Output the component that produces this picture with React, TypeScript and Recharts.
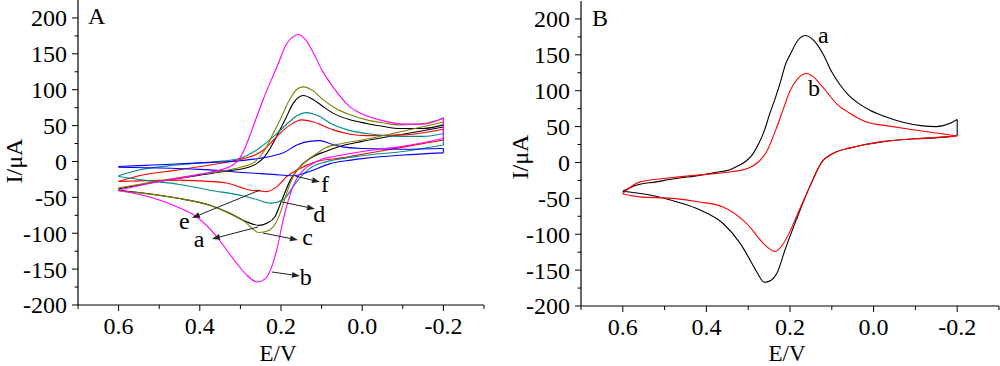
import React from 'react';
import { LineChart, Line, XAxis, YAxis, ReferenceLine, ReferenceDot } from 'recharts';

const FONT = "'Liberation Serif', 'Times New Roman', serif";

// axis ticks
const xTicks = [0.7, 0.6, 0.5, 0.4, 0.3, 0.2, 0.1, 0, -0.1, -0.2, -0.3];
const xTickLabels = ['', '0.6', '', '0.4', '', '0.2', '', '0.0', '', '-0.2', ''];
const yTicks = [-200, -175, -150, -125, -100, -75, -50, -25, 0, 25, 50, 75, 100, 125, 150, 175, 200];
const yTickLabels = ['-200', '', '-150', '', '-100', '', '-50', '', '0', '', '50', '', '100', '', '150', '', '200'];

// Panel A, [E (V), I (uA)]; upper = anodic branch, lower = cathodic branch
const aUpper = [[-0.2, 51], [-0.15, 46], [-0.093, 46], [-0.05, 49], [-0.011, 53], [0.03, 58], [0.071, 67], [0.1, 78], [0.12, 86], [0.145, 92], [0.17, 81], [0.19, 58], [0.21, 36], [0.227, 18], [0.24, 7], [0.26, -3], [0.28, -8], [0.33, -13], [0.4, -19], [0.5, -28], [0.6, -38]];
const aLower = [[-0.2, 48], [-0.1, 38], [0, 28], [0.05, 22], [0.09, 14], [0.12, 7], [0.153, -7], [0.177, -26], [0.198, -54], [0.215, -77], [0.235, -86], [0.255, -89], [0.285, -84], [0.326, -72], [0.375, -61], [0.457, -51], [0.6, -40]];

const bUpper = [[-0.2, 61], [-0.15, 52], [-0.1, 52], [-0.05, 57], [0, 66], [0.03, 76], [0.072, 104], [0.1, 128], [0.12, 151], [0.14, 170], [0.157, 177], [0.17, 174], [0.186, 164], [0.21, 132], [0.244, 86], [0.26, 62], [0.276, 37], [0.29, 17], [0.3, 6], [0.31, -1], [0.325, -7], [0.345, -11], [0.4, -18], [0.5, -28], [0.6, -40]];
const bLower = [[-0.2, 32], [-0.1, 21], [0, 14], [0.07, 7], [0.1, 3], [0.125, -4], [0.145, -12], [0.17, -34], [0.194, -80], [0.21, -122], [0.225, -150], [0.24, -164], [0.258, -168], [0.285, -158], [0.309, -142], [0.333, -124], [0.358, -105], [0.408, -77], [0.457, -63], [0.515, -51], [0.6, -40]];

const cUpper = [[-0.2, 60], [-0.15, 53], [-0.093, 51], [-0.05, 54], [-0.011, 58], [0.03, 65], [0.071, 76], [0.1, 88], [0.12, 98], [0.145, 104], [0.16, 101], [0.18, 85], [0.202, 58], [0.22, 38], [0.235, 21], [0.25, 8], [0.268, -2], [0.3, -8], [0.33, -12], [0.4, -18], [0.5, -27], [0.6, -37]];
const cLower = [[-0.2, 55], [-0.1, 42], [0, 30], [0.05, 25], [0.09, 19], [0.112, 11], [0.145, -3], [0.17, -21], [0.186, -44], [0.202, -72], [0.219, -91], [0.24, -98], [0.255, -99], [0.27, -94], [0.285, -86], [0.326, -73], [0.375, -61], [0.457, -51], [0.6, -41]];

const dUpper = [[-0.2, 39], [-0.15, 35], [-0.093, 35], [-0.011, 39], [0.03, 43], [0.071, 51], [0.11, 64], [0.137, 68], [0.16, 64], [0.18, 55], [0.21, 39], [0.26, 16], [0.31, 3], [0.4, -2], [0.457, -5], [0.55, -12], [0.6, -20]];
const dLower = [[-0.2, 23], [-0.1, 14], [0, 8], [0.07, 2], [0.1, -2], [0.13, -10], [0.152, -22], [0.17, -35], [0.194, -53], [0.225, -58], [0.26, -53], [0.293, -48], [0.375, -40], [0.45, -32], [0.539, -26], [0.6, -21]];

const eUpper = [[-0.2, 45], [-0.1, 37], [-0.011, 36], [0.03, 38], [0.071, 44], [0.12, 55], [0.149, 58], [0.18, 50], [0.21, 35], [0.243, 16], [0.26, 10], [0.293, 4], [0.375, -5], [0.457, -12], [0.55, -20], [0.6, -28]];
const eLower = [[-0.2, 30], [-0.1, 20], [0, 10], [0.05, 5], [0.112, 0], [0.161, -12], [0.186, -21], [0.21, -35], [0.235, -42], [0.252, -41], [0.275, -40], [0.334, -30], [0.4, -27], [0.457, -26], [0.55, -27], [0.6, -28]];

const fUpper = [[-0.2, 18], [-0.1, 17], [0, 18], [0.055, 21], [0.08, 25], [0.104, 29], [0.13, 28], [0.161, 23], [0.194, 12], [0.227, 7], [0.3, 1], [0.4, -2], [0.5, -4.5], [0.6, -7]];
const fLower = [[-0.2, 12], [-0.1, 9], [0, 4], [0.04, 1], [0.079, -3], [0.129, -14], [0.17, -20], [0.22, -18], [0.276, -16], [0.4, -11], [0.5, -9], [0.6, -8]];

// Panel B
const baUpper = [[-0.2, 60], [-0.18, 54], [-0.15, 50], [-0.117, 51], [-0.07, 56], [-0.022, 65], [0.01, 73], [0.04, 84], [0.06, 94], [0.08, 108], [0.1, 126], [0.12, 150], [0.14, 168], [0.163, 177], [0.18, 171], [0.2, 150], [0.21, 138], [0.223, 112], [0.235, 90], [0.249, 67], [0.261, 45], [0.275, 26], [0.29, 11], [0.305, 2], [0.325, -5], [0.344, -10], [0.38, -14], [0.416, -18], [0.47, -22], [0.52, -27], [0.57, -32], [0.6, -40]];
const baLower = [[-0.2, 38], [-0.181, 36], [-0.1, 33], [-0.022, 29], [0.02, 25], [0.058, 20], [0.089, 15], [0.105, 10], [0.121, 3], [0.153, -34], [0.185, -80], [0.212, -122], [0.231, -154], [0.245, -164], [0.262, -167], [0.27, -162], [0.28, -152], [0.32, -112], [0.36, -85], [0.416, -66], [0.47, -55], [0.52, -47], [0.6, -40]];
const bbUpper = [[-0.2, 37], [-0.15, 41], [-0.102, 45], [-0.022, 52], [0.01, 55], [0.058, 69], [0.089, 82], [0.11, 97], [0.129, 110], [0.145, 120], [0.16, 124], [0.18, 118], [0.2, 100], [0.215, 76], [0.235, 44], [0.255, 16], [0.275, 1], [0.3, -8], [0.34, -13], [0.41, -17], [0.48, -21], [0.559, -27], [0.6, -43]];
const bbLower = [[-0.2, 37], [-0.181, 36], [-0.1, 33], [-0.022, 29], [0.02, 25], [0.058, 20], [0.089, 15], [0.105, 10], [0.121, 3], [0.153, -34], [0.17, -56], [0.185, -76], [0.2, -96], [0.217, -114], [0.235, -124], [0.25, -120], [0.265, -112], [0.304, -85], [0.36, -62], [0.416, -55], [0.48, -50], [0.559, -48], [0.6, -44]];

const seriesA = [
  { key: 'a', color: '#000000', upper: aUpper, lower: aLower },
  { key: 'e', color: '#ff0000', upper: eUpper, lower: eLower },
  { key: 'd', color: '#008b8b', upper: dUpper, lower: dLower },
  { key: 'f', color: '#0000ff', upper: fUpper, lower: fLower },
  { key: 'c', color: '#808000', upper: cUpper, lower: cLower },
  { key: 'b', color: '#ff00ff', upper: bUpper, lower: bLower },
];
const seriesB = [
  { key: 'a', color: '#000000', upper: baUpper, lower: baLower },
  { key: 'b', color: '#ff0000', upper: bbUpper, lower: bbLower },
];

// annotations: arrow [from], [to], label position
const arrowsA = [
  { label: 'f', from: [0.1655, -20.2], to: [0.104, -28.6], at: [0.0916, -30] },
  { label: 'd', from: [0.1975, -56.4], to: [0.1163, -66.2], at: [0.106, -71.8] },
  { label: 'c', from: [0.2443, -99.7], to: [0.1581, -109.4], at: [0.1347, -105] },
  { label: 'b', from: [0.2222, -154], to: [0.1532, -159.6], at: [0.139, -160.5] },
  { label: 'a', from: [0.2567, -91.3], to: [0.37, -108], at: [0.402, -107.6] },
  { label: 'e', from: [0.2517, -39.7], to: [0.4192, -78.7], at: [0.438, -82] },
];
const labelsB = [
  { label: 'a', at: [0.12, 178] },
  { label: 'b', at: [0.1426, 104.8] },
];

const toPts = (arr: number[][]) =>
  arr.map(([e, i]) => ({ e, i })).sort((p, q) => q.e - p.e);

function XTick({ x, y, index }: any) {
  const label = xTickLabels[index];
  return (
    <g>
      <line x1={x} x2={x} y1={y} y2={y + (label ? 6 : 4)} stroke="#000" />
      {label && (
        <text x={x} y={y + 21} dy="0.35em" textAnchor="middle" fontSize={24} fontFamily={FONT} fill="#000">
          {label}
        </text>
      )}
    </g>
  );
}

function YTick({ x, y, index }: any) {
  const label = yTickLabels[index];
  return (
    <g>
      <line x1={x - (label ? 6 : 3.5)} x2={x} y1={y} y2={y} stroke="#000" />
      {label && (
        <text x={x - 11} y={y} dy="0.35em" textAnchor="end" fontSize={24} fontFamily={FONT} fill="#000">
          {label}
        </text>
      )}
    </g>
  );
}

function Arrow(props: any) {
  const { x1, y1, x2, y2 } = props;
  const ang = Math.atan2(y2 - y1, x2 - x1);
  const c = Math.cos(ang);
  const s = Math.sin(ang);
  const bx = x2 - 8 * c;
  const by = y2 - 8 * s;
  const pts = `${x2},${y2} ${bx + 3 * s},${by - 3 * c} ${bx - 3 * s},${by + 3 * c}`;
  return (
    <g>
      <line x1={x1} y1={y1} x2={bx} y2={by} stroke="#222" strokeWidth={1} />
      <polygon points={pts} fill="#222" />
    </g>
  );
}

function textLabel(value: string, size = 24) {
  return { value, position: 'center' as const, fontSize: size, fill: '#000', fontFamily: FONT };
}

function renderCurves(series: typeof seriesA) {
  const out: React.ReactNode[] = [];
  series.forEach((s) => {
    const up = toPts(s.upper);
    const lo = toPts(s.lower);
    const common = { dataKey: 'i', stroke: s.color, strokeWidth: 1.1, dot: false, activeDot: false, isAnimationActive: false };
    out.push(<Line key={s.key + 'u'} data={up} type="monotone" {...common} />);
    out.push(<Line key={s.key + 'l'} data={lo} type="monotone" {...common} />);
    // joins at the switching potentials
    out.push(<Line key={s.key + 'r'} data={[up[up.length - 1], lo[lo.length - 1]]} type="linear" {...common} />);
    out.push(<Line key={s.key + 'L'} data={[up[0], lo[0]]} type="linear" {...common} />);
  });
  return out;
}

function Panel({
  series,
  letter,
  letterAt,
  yAxisWidth,
  margin,
  xAxisHeight,
  yTitleX,
  yTitleY,
  xTitleX,
  children,
}: any) {
  return (
    <LineChart width={500} height={366} margin={margin}>
      <XAxis
        dataKey="e"
        type="number"
        domain={[-0.3, 0.7]}
        reversed
        allowDataOverflow
        ticks={xTicks}
        interval={0}
        tickSize={0}
        tickMargin={0}
        tickLine={false}
        height={xAxisHeight}
        axisLine={{ stroke: '#000', strokeWidth: 1.2 }}
        tick={(p: any) => <XTick {...p} />}
        label={{
          content: () => (
            <text x={xTitleX} y={361} textAnchor="middle" fontSize={23} fontFamily={FONT} fill="#000">
              E/V
            </text>
          ),
        }}
      />
      <YAxis
        type="number"
        domain={[-200, 225]}
        allowDataOverflow
        ticks={yTicks}
        interval={0}
        tickSize={0}
        tickMargin={0}
        tickLine={false}
        width={yAxisWidth}
        axisLine={{ stroke: '#000', strokeWidth: 1.2 }}
        tick={(p: any) => <YTick {...p} />}
        label={{
          content: () => (
            <text
              x={yTitleX}
              y={yTitleY}
              transform={`rotate(-90 ${yTitleX} ${yTitleY})`}
              textAnchor="middle"
              fontSize={24}
              fontFamily={FONT}
              fill="#000"
            >
              I/μA
            </text>
          ),
        }}
      />
      {renderCurves(series)}
      <ReferenceDot x={letterAt[0]} y={letterAt[1]} r={0} fill="none" stroke="none" ifOverflow="visible" label={textLabel(letter)} />
      {children}
    </LineChart>
  );
}

export default function App() {
  return (
    <div style={{ position: 'absolute', left: 0, top: 0, width: 1000, height: 366, display: 'flex', background: '#fff' }}>
      <Panel
        series={seriesA}
        letter="A"
        letterAt={[0.654, 203.5]}
        yAxisWidth={78}
        margin={{ top: 0, right: 16, bottom: 0, left: 0 }}
        xAxisHeight={61}
        yTitleX={22}
        yTitleY={161}
        xTitleX={278}
      >
        {arrowsA.map((a) => (
          <ReferenceLine
            key={'arr' + a.label}
            segment={[{ x: a.from[0], y: a.from[1] }, { x: a.to[0], y: a.to[1] }]}
            ifOverflow="visible"
            shape={Arrow}
          />
        ))}
        {arrowsA.map((a) => (
          <ReferenceDot key={'lab' + a.label} x={a.at[0]} y={a.at[1]} r={0} fill="none" stroke="none" ifOverflow="visible" label={textLabel(a.label)} />
        ))}
      </Panel>
      <Panel
        series={seriesB}
        letter="B"
        letterAt={[0.6545, 202.5]}
        yAxisWidth={81}
        margin={{ top: 1, right: 1, bottom: 0, left: 0 }}
        xAxisHeight={60}
        yTitleX={28}
        yTitleY={157}
        xTitleX={287}
      >
        {labelsB.map((a) => (
          <ReferenceDot key={'labB' + a.label} x={a.at[0]} y={a.at[1]} r={0} fill="none" stroke="none" ifOverflow="visible" label={textLabel(a.label)} />
        ))}
      </Panel>
    </div>
  );
}
